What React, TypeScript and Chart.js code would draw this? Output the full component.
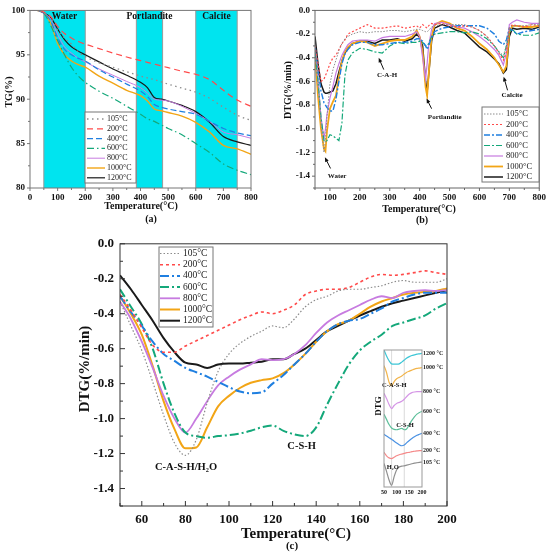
import { useEffect, useRef } from "react";
import { Chart, registerables } from "chart.js";

// Register Chart.js components
Chart.register(...registerables);

const FONT = '"Liberation Serif", "Times New Roman", serif';

// Series shared by the three panels
const SERIES = ["105°C", "200°C", "400°C", "600°C", "800°C", "1000°C", "1200°C"];
const COLORS = ["#8c8c8c", "#ff4a4a", "#1f7fe0", "#14a87a", "#c77be0", "#f2a516", "#1a1a1a"];

// (a) TG curves
const TG_TEMP = [0, 25, 50, 75, 100, 125, 150, 175, 200, 250, 300, 350, 400, 425, 450, 475, 500, 550, 600, 650, 700, 750, 800];
const TG_105 = [100, 100, 99.7, 99.1, 97.8, 96.9, 96.2, 95.3, 94.8, 94.1, 93.6, 93.1, 92.6, 92.4, 92.2, 91.95, 91.7, 91.25, 90.8, 90.1, 89.1, 88.2, 87.6];
const TG_200 = [100, 100, 99.8, 99.3, 98.2, 97.4, 96.9, 96.5, 96.2, 95.7, 95.2, 94.75, 94.35, 94.15, 93.95, 93.75, 93.55, 93.15, 92.8, 92.2, 91.0, 89.9, 89.2];
const TG_400 = [100, 100, 99.7, 98.8, 96.9, 95.6, 95.0, 94.6, 94.3, 93.3, 92.5, 91.7, 90.9, 90.3, 89.4, 89.1, 88.9, 88.6, 88.3, 87.5, 86.7, 86.2, 85.9];
const TG_600 = [100, 100, 99.7, 98.3, 96.6, 95.0, 93.6, 92.6, 91.9, 90.9, 90.1, 89.2, 88.3, 87.8, 87.5, 87.1, 86.7, 86.0, 85.0, 84.0, 82.7, 82.0, 81.5];
const TG_800 = [100, 100, 99.7, 99.0, 97.3, 95.9, 95.2, 94.6, 94.2, 93.4, 92.7, 92.0, 91.3, 90.7, 90.0, 89.9, 89.8, 89.2, 88.4, 87.5, 86.3, 86.0, 85.6];
const TG_1000 = [100, 100, 99.7, 98.5, 96.3, 95.0, 94.3, 93.9, 93.6, 92.6, 91.8, 91.0, 90.4, 89.8, 88.9, 88.7, 88.5, 88.1, 87.4, 86.3, 84.8, 84.4, 83.8];
const TG_1200 = [100, 100, 99.7, 99.2, 97.9, 96.7, 95.9, 95.4, 95.0, 94.2, 93.4, 92.7, 91.9, 91.3, 90.2, 90.0, 89.8, 89.3, 88.6, 87.4, 85.8, 85.2, 84.8];
const TG_X_TICKS = [0, 100, 200, 300, 400, 500, 600, 700, 800];
const TG_X_MINOR = [50, 150, 250, 350, 450, 550, 650, 750];
const TG_Y_TICKS = [80, 85, 90, 95, 100];
const TG_Y_MINOR = [82.5, 87.5, 92.5, 97.5];
const BAND_FROM = [50, 385, 600];
const BAND_TO = [200, 480, 750];
const BAND_LABEL = ["Water", "Portlandite", "Calcite"];

// (b) DTG curves, full range
const DTG_TEMP = [50, 60, 70, 80, 85, 90, 100, 110, 120, 130, 140, 150, 160, 175, 200, 225, 250, 275, 300, 325, 350, 375, 390, 400, 410, 420, 425, 430, 440, 450, 475, 500, 525, 550, 575, 600, 625, 650, 665, 680, 690, 700, 710, 725, 750, 775, 800];
const DTG_105 = [-0.30, -0.55, -0.95, -1.20, -1.10, -0.90, -0.62, -0.50, -0.42, -0.34, -0.28, -0.24, -0.22, -0.20, -0.18, -0.19, -0.18, -0.18, -0.17, -0.17, -0.18, -0.17, -0.16, -0.16, -0.17, -0.18, -0.18, -0.17, -0.14, -0.13, -0.12, -0.12, -0.12, -0.12, -0.14, -0.17, -0.22, -0.30, -0.35, -0.38, -0.30, -0.15, -0.13, -0.13, -0.13, -0.12, -0.12];
const DTG_200 = [-0.30, -0.45, -0.60, -0.58, -0.55, -0.52, -0.45, -0.40, -0.38, -0.33, -0.28, -0.25, -0.20, -0.18, -0.15, -0.12, -0.15, -0.15, -0.14, -0.13, -0.15, -0.14, -0.13, -0.15, -0.12, -0.14, -0.15, -0.13, -0.11, -0.12, -0.11, -0.13, -0.14, -0.13, -0.14, -0.17, -0.22, -0.30, -0.36, -0.42, -0.35, -0.15, -0.12, -0.13, -0.14, -0.12, -0.13];
const DTG_400 = [-0.30, -0.50, -0.68, -0.78, -0.80, -0.82, -0.85, -0.85, -0.75, -0.60, -0.45, -0.37, -0.33, -0.29, -0.27, -0.27, -0.29, -0.29, -0.28, -0.27, -0.27, -0.26, -0.24, -0.24, -0.26, -0.30, -0.33, -0.30, -0.23, -0.18, -0.15, -0.14, -0.13, -0.13, -0.13, -0.13, -0.15, -0.20, -0.26, -0.29, -0.25, -0.15, -0.17, -0.20, -0.18, -0.17, -0.16];
const DTG_600 = [-0.35, -0.60, -0.90, -1.10, -1.11, -1.10, -1.05, -1.06, -1.08, -1.10, -0.95, -0.55, -0.42, -0.36, -0.32, -0.33, -0.35, -0.36, -0.30, -0.27, -0.28, -0.27, -0.27, -0.26, -0.27, -0.30, -0.30, -0.28, -0.22, -0.20, -0.19, -0.18, -0.18, -0.19, -0.18, -0.20, -0.24, -0.30, -0.35, -0.40, -0.30, -0.18, -0.16, -0.20, -0.21, -0.21, -0.19];
const DTG_800 = [-0.30, -0.60, -0.90, -1.08, -1.00, -0.88, -0.74, -0.64, -0.53, -0.45, -0.38, -0.33, -0.29, -0.26, -0.25, -0.25, -0.26, -0.23, -0.22, -0.22, -0.22, -0.20, -0.18, -0.22, -0.40, -0.58, -0.45, -0.30, -0.16, -0.11, -0.10, -0.12, -0.14, -0.15, -0.18, -0.22, -0.27, -0.33, -0.38, -0.46, -0.36, -0.12, -0.10, -0.08, -0.10, -0.11, -0.11];
const DTG_1000 = [-0.35, -0.72, -1.00, -1.17, -1.19, -1.02, -0.83, -0.77, -0.72, -0.56, -0.43, -0.35, -0.31, -0.28, -0.26, -0.27, -0.30, -0.28, -0.26, -0.25, -0.25, -0.22, -0.17, -0.22, -0.35, -0.65, -0.72, -0.55, -0.22, -0.12, -0.09, -0.11, -0.15, -0.17, -0.22, -0.28, -0.33, -0.40, -0.46, -0.52, -0.47, -0.18, -0.13, -0.13, -0.14, -0.14, -0.13];
const DTG_1200 = [-0.22, -0.45, -0.62, -0.69, -0.70, -0.70, -0.69, -0.68, -0.62, -0.52, -0.43, -0.36, -0.32, -0.28, -0.26, -0.26, -0.28, -0.25, -0.25, -0.24, -0.26, -0.24, -0.20, -0.23, -0.30, -0.60, -0.69, -0.55, -0.26, -0.15, -0.12, -0.14, -0.17, -0.19, -0.25, -0.31, -0.35, -0.41, -0.45, -0.53, -0.50, -0.22, -0.15, -0.16, -0.15, -0.16, -0.14];
const DTG_X_TICKS = [100, 200, 300, 400, 500, 600, 700, 800];
const DTG_X_MINOR = [50, 150, 250, 350, 450, 550, 650, 750];
const DTG_Y_TICKS = [-1.4, -1.2, -1.0, -0.8, -0.6, -0.4, -0.2, 0.0];
const DTG_Y_MINOR = [-1.5, -1.3, -1.1, -0.9, -0.7, -0.5, -0.3, -0.1];

// (c) DTG curves, 50-200 °C
const LOW_TEMP = [50, 55, 60, 65, 70, 75, 80, 85, 90, 95, 100, 105, 110, 115, 120, 125, 130, 135, 140, 145, 150, 155, 160, 165, 170, 175, 180, 185, 190, 195, 200];
const LOW_105 = [-0.33, -0.47, -0.61, -0.79, -0.98, -1.14, -1.21, -1.12, -0.91, -0.73, -0.63, -0.57, -0.53, -0.50, -0.47, -0.48, -0.43, -0.36, -0.32, -0.30, -0.27, -0.26, -0.26, -0.25, -0.24, -0.22, -0.21, -0.22, -0.22, -0.22, -0.20];
const LOW_200 = [-0.29, -0.38, -0.48, -0.58, -0.62, -0.62, -0.585, -0.555, -0.525, -0.495, -0.465, -0.435, -0.41, -0.39, -0.40, -0.38, -0.35, -0.29, -0.27, -0.26, -0.26, -0.25, -0.22, -0.19, -0.175, -0.18, -0.175, -0.165, -0.155, -0.165, -0.175];
const LOW_400 = [-0.30, -0.39, -0.47, -0.56, -0.63, -0.67, -0.71, -0.735, -0.76, -0.79, -0.82, -0.845, -0.855, -0.85, -0.80, -0.75, -0.69, -0.63, -0.56, -0.50, -0.46, -0.44, -0.43, -0.40, -0.37, -0.33, -0.31, -0.29, -0.28, -0.28, -0.28];
const LOW_600 = [-0.26, -0.36, -0.46, -0.60, -0.80, -0.97, -1.08, -1.10, -1.11, -1.10, -1.095, -1.085, -1.07, -1.05, -1.04, -1.07, -1.09, -1.10, -1.05, -0.92, -0.80, -0.69, -0.61, -0.56, -0.52, -0.47, -0.45, -0.43, -0.41, -0.37, -0.34];
const LOW_800 = [-0.33, -0.43, -0.56, -0.71, -0.87, -1.00, -1.08, -1.00, -0.90, -0.81, -0.76, -0.72, -0.69, -0.66, -0.665, -0.66, -0.63, -0.58, -0.51, -0.45, -0.41, -0.38, -0.35, -0.32, -0.30, -0.31, -0.28, -0.27, -0.265, -0.27, -0.265];
const LOW_1000 = [-0.30, -0.40, -0.52, -0.70, -0.90, -1.06, -1.17, -1.165, -1.05, -0.93, -0.87, -0.825, -0.795, -0.78, -0.77, -0.74, -0.69, -0.63, -0.56, -0.50, -0.46, -0.44, -0.40, -0.36, -0.33, -0.31, -0.29, -0.28, -0.275, -0.27, -0.255];
const LOW_1200 = [-0.18, -0.26, -0.35, -0.44, -0.54, -0.62, -0.68, -0.69, -0.71, -0.69, -0.685, -0.685, -0.68, -0.675, -0.66, -0.66, -0.63, -0.60, -0.55, -0.50, -0.47, -0.44, -0.41, -0.385, -0.36, -0.34, -0.325, -0.31, -0.295, -0.28, -0.265];
const LOW_X_TICKS = [60, 80, 100, 120, 140, 160, 180, 200];
const LOW_X_MINOR = [50, 70, 90, 110, 130, 150, 170, 190];

// inset: stacked DTG traces (arbitrary units, no y scale)
const INSET_TEMP = [50, 60, 70, 80, 90, 100, 110, 120, 130, 140, 150, 160, 170, 180, 190, 200];
const INSET_NAMES = ["1200 °C", "1000 °C", "800 °C", "600 °C", "400 °C", "200 °C", "105 °C"];
const INSET_COLORS = ["#3cc6d6", "#f2b44a", "#d596e6", "#5cbf9a", "#4b92e3", "#f58a8a", "#8f8f8f"];
const INSET_1200 = [-0.45, -0.62, -0.76, -0.85, -0.86, -0.86, -0.85, -0.80, -0.74, -0.68, -0.64, -0.61, -0.59, -0.57, -0.56, -0.55];
const INSET_1000 = [-0.90, -1.10, -1.38, -1.48, -1.36, -1.28, -1.24, -1.20, -1.14, -1.09, -1.06, -1.03, -1.00, -0.98, -0.97, -0.96];
const INSET_800 = [-1.70, -1.85, -2.02, -2.14, -2.05, -1.99, -1.96, -1.93, -1.87, -1.79, -1.72, -1.68, -1.66, -1.65, -1.65, -1.65];
const INSET_600 = [-2.30, -2.45, -2.60, -2.70, -2.74, -2.75, -2.73, -2.71, -2.75, -2.72, -2.60, -2.48, -2.38, -2.30, -2.25, -2.22];
const INSET_400 = [-2.88, -2.93, -2.98, -3.02, -3.08, -3.13, -3.18, -3.21, -3.19, -3.12, -3.06, -3.00, -2.95, -2.91, -2.88, -2.85];
const INSET_200 = [-3.40, -3.50, -3.56, -3.58, -3.54, -3.50, -3.47, -3.45, -3.43, -3.41, -3.40, -3.38, -3.37, -3.36, -3.35, -3.35];
const INSET_105 = [-3.72, -3.95, -4.20, -4.35, -4.10, -3.90, -3.82, -3.80, -3.79, -3.77, -3.75, -3.73, -3.71, -3.70, -3.69, -3.68];
const INSET_X_TICKS = [50, 100, 150, 200];
const INSET_GUIDES = [80, 130];

type Note = { t: string; x: number; y: number; font: string };
type Arrow = { x0: number; y0: number; x1: number; y1: number };

function lines(temps: number[], series: number[][], widths: number[], dashes: number[][], names = SERIES, colors = COLORS, mode = "monotone") {
  return series.map((vals, i) => ({
    label: names[i],
    data: temps.map((t, k) => ({ x: t, y: vals[k] })),
    borderColor: colors[i],
    borderWidth: widths[i],
    borderDash: dashes[i],
    pointRadius: 0,
    fill: false,
    tension: mode === "linear" ? 0 : 0.4,
    cubicInterpolationMode: mode === "linear" ? "default" : "monotone",
  }));
}

function axes(c: any) {
  const font = { family: FONT, size: c.tickSize, weight: "bold" as const };
  return {
    x: {
      type: "linear",
      min: c.xMin,
      max: c.xMax,
      grid: { display: false, drawTicks: false },
      border: { display: false },
      ticks: { font, color: "#111", padding: c.xPad, maxRotation: 0, autoSkip: false },
      afterBuildTicks: (s: any) => {
        s.ticks = c.xTicks.map((v: number) => ({ value: v }));
      },
      afterFit: (s: any) => {
        s.height = c.xHeight;
      },
    },
    y: {
      type: "linear",
      min: c.yMin,
      max: c.yMax,
      grid: { display: false, drawTicks: false },
      border: { display: false },
      ticks: {
        font,
        color: "#111",
        padding: c.yPad,
        display: c.yTicks.length > 0,
        callback: (v: any) => (c.yDigits ? Number(v).toFixed(c.yDigits) : String(v)),
      },
      afterBuildTicks: (s: any) => {
        s.ticks = c.yTicks.map((v: number) => ({ value: v }));
      },
      afterFit: (s: any) => {
        s.width = c.yWidth;
      },
    },
  };
}

// frame, tick marks and axis titles
function decorPlugin(d: any) {
  return {
    id: "decor",
    afterDraw(chart: any) {
      const { ctx, chartArea: a, scales } = chart;
      const sx = scales.x;
      const sy = scales.y;
      const s = d.tickOut ? 1 : -1;
      ctx.save();
      ctx.setLineDash([]);
      ctx.strokeStyle = d.frame;
      ctx.lineWidth = 1;
      ctx.strokeRect(a.left, a.top, a.right - a.left, a.bottom - a.top);
      ctx.beginPath();
      const xt = (vals: number[], len: number) =>
        vals.forEach((v) => {
          const p = sx.getPixelForValue(v);
          ctx.moveTo(p, a.bottom);
          ctx.lineTo(p, a.bottom + s * len);
        });
      const yt = (vals: number[], len: number) =>
        vals.forEach((v) => {
          const p = sy.getPixelForValue(v);
          ctx.moveTo(a.left, p);
          ctx.lineTo(a.left - s * len, p);
        });
      xt(d.xMajor, d.major);
      xt(d.xMinor, d.minor);
      yt(d.yMajor, d.major);
      yt(d.yMinor, d.minor);
      ctx.stroke();

      ctx.fillStyle = "#111";
      ctx.textAlign = "center";
      ctx.textBaseline = "middle";
      ctx.font = d.titleFont;
      if (d.xTitle) ctx.fillText(d.xTitle, d.xTitleX, d.xTitleY);
      if (d.yTitle) {
        ctx.save();
        ctx.translate(d.yTitleX, d.yTitleY);
        ctx.rotate(-Math.PI / 2);
        ctx.fillText(d.yTitle, 0, 0);
        ctx.restore();
      }
      if (d.caption) {
        ctx.font = d.captionFont;
        ctx.fillText(d.caption, d.captionX, d.captionY);
      }
      ctx.restore();
    },
  };
}

// boxed legend inside the plot
function legendPlugin(b: any) {
  return {
    id: "boxLegend",
    afterDraw(chart: any) {
      const ctx = chart.ctx;
      ctx.save();
      ctx.fillStyle = "#fff";
      ctx.fillRect(b.x, b.y, b.w, b.h);
      ctx.strokeStyle = "#777";
      ctx.lineWidth = 1;
      ctx.setLineDash([]);
      ctx.strokeRect(b.x, b.y, b.w, b.h);
      chart.data.datasets.forEach((ds: any, i: number) => {
        const y = b.row0 + i * b.step;
        ctx.strokeStyle = ds.borderColor;
        ctx.lineWidth = ds.borderWidth;
        ctx.setLineDash(ds.borderDash || []);
        ctx.beginPath();
        ctx.moveTo(b.l0, y);
        ctx.lineTo(b.l1, y);
        ctx.stroke();
        ctx.setLineDash([]);
        ctx.fillStyle = "#222";
        ctx.font = b.font;
        ctx.textAlign = "left";
        ctx.textBaseline = "middle";
        ctx.fillText(ds.label, b.tx, y);
      });
      ctx.restore();
    },
  };
}

// text labels and arrows placed in data coordinates
function notesPlugin(notes: Note[], arrows: Arrow[]) {
  return {
    id: "notes",
    afterDatasetsDraw(chart: any) {
      const { ctx, scales } = chart;
      const px = (v: number) => scales.x.getPixelForValue(v);
      const py = (v: number) => scales.y.getPixelForValue(v);
      ctx.save();
      ctx.fillStyle = "#111";
      ctx.strokeStyle = "#111";
      ctx.textAlign = "center";
      ctx.textBaseline = "middle";
      notes.forEach((n) => {
        ctx.font = n.font;
        ctx.fillText(n.t, px(n.x), py(n.y));
      });
      arrows.forEach((r) => {
        const x0 = px(r.x0), y0 = py(r.y0), x1 = px(r.x1), y1 = py(r.y1);
        const ang = Math.atan2(y1 - y0, x1 - x0);
        ctx.lineWidth = 1;
        ctx.beginPath();
        ctx.moveTo(x0, y0);
        ctx.lineTo(x1 - 3 * Math.cos(ang), y1 - 3 * Math.sin(ang));
        ctx.stroke();
        ctx.beginPath();
        ctx.moveTo(x1, y1);
        ctx.lineTo(x1 - 5 * Math.cos(ang - 0.4), y1 - 5 * Math.sin(ang - 0.4));
        ctx.lineTo(x1 - 5 * Math.cos(ang + 0.4), y1 - 5 * Math.sin(ang + 0.4));
        ctx.closePath();
        ctx.fill();
      });
      ctx.restore();
    },
  };
}

// cyan temperature bands of panel (a)
const bandPlugin = {
  id: "bands",
  beforeDatasetsDraw(chart: any) {
    const { ctx, chartArea: a, scales } = chart;
    ctx.save();
    BAND_FROM.forEach((from, i) => {
      const x0 = scales.x.getPixelForValue(from);
      const x1 = scales.x.getPixelForValue(BAND_TO[i]);
      ctx.fillStyle = "#00e4ef";
      ctx.fillRect(x0, a.top, x1 - x0, a.bottom - a.top);
      ctx.strokeStyle = "#9a9a9a";
      ctx.lineWidth = 1;
      ctx.beginPath();
      ctx.moveTo(x0, a.top);
      ctx.lineTo(x0, a.bottom);
      ctx.moveTo(x1, a.top);
      ctx.lineTo(x1, a.bottom);
      ctx.stroke();
    });
    ctx.restore();
  },
  afterDatasetsDraw(chart: any) {
    const { ctx, chartArea: a, scales } = chart;
    ctx.save();
    ctx.fillStyle = "#111";
    ctx.font = `bold 9.5px ${FONT}`;
    ctx.textAlign = "center";
    ctx.textBaseline = "middle";
    BAND_FROM.forEach((from, i) => {
      const x = scales.x.getPixelForValue((from + BAND_TO[i]) / 2);
      ctx.fillText(BAND_LABEL[i], x, a.top + 6.5);
    });
    ctx.restore();
  },
};

// inset: white box, guide lines and end-of-curve labels
const insetPlugin = {
  id: "insetBits",
  beforeDatasetsDraw(chart: any) {
    const { ctx, chartArea: a, scales } = chart;
    ctx.save();
    ctx.fillStyle = "#fff";
    ctx.fillRect(a.left, a.top, a.right - a.left, a.bottom - a.top);
    ctx.strokeStyle = "#d0d0d0";
    ctx.lineWidth = 0.8;
    ctx.beginPath();
    INSET_GUIDES.forEach((g) => {
      const x = scales.x.getPixelForValue(g);
      ctx.moveTo(x, a.top);
      ctx.lineTo(x, a.bottom);
    });
    ctx.stroke();
    ctx.restore();
  },
  afterDatasetsDraw(chart: any) {
    const { ctx, chartArea: a, scales } = chart;
    ctx.save();
    ctx.fillStyle = "#222";
    ctx.font = `bold 6px ${FONT}`;
    ctx.textAlign = "left";
    ctx.textBaseline = "middle";
    chart.data.datasets.forEach((ds: any) => {
      const last = ds.data[ds.data.length - 1];
      ctx.fillText(ds.label, a.right + 1, scales.y.getPixelForValue(last.y));
    });
    ctx.restore();
  },
};

const App = () => {
  const tgRef = useRef<HTMLCanvasElement>(null);
  const dtgRef = useRef<HTMLCanvasElement>(null);
  const lowRef = useRef<HTMLCanvasElement>(null);
  const insetRef = useRef<HTMLCanvasElement>(null);

  useEffect(() => {
    const charts: Chart[] = [];
    const base = {
      animation: false,
      responsive: false,
      events: [],
      plugins: { legend: { display: false }, tooltip: { enabled: false } },
    };

    // (a) TG
    if (tgRef.current) {
      charts.push(
        new Chart(tgRef.current, {
          type: "line",
          data: {
            datasets: lines(
              TG_TEMP,
              [TG_105, TG_200, TG_400, TG_600, TG_800, TG_1000, TG_1200],
              [1.3, 1.2, 1.2, 1.2, 1, 1.4, 1.2],
              [[1.5, 3.5], [6, 4], [6, 3], [7, 3, 1.5, 3], [], [], []]
            ),
          },
          options: {
            ...base,
            layout: { padding: { left: 0, top: 9, right: 24, bottom: 0 } },
            scales: axes({
              xMin: 0, xMax: 800, yMin: 80, yMax: 100,
              xTicks: TG_X_TICKS, yTicks: TG_Y_TICKS,
              tickSize: 9, xPad: 4, yPad: 5, xHeight: 42, yWidth: 30,
            }),
          } as any,
          plugins: [
            bandPlugin,
            decorPlugin({
              frame: "#777", tickOut: true, major: 3, minor: 2,
              xMajor: TG_X_TICKS, xMinor: TG_X_MINOR, yMajor: TG_Y_TICKS, yMinor: TG_Y_MINOR,
              titleFont: `bold 10px ${FONT}`,
              xTitle: "Temperature(°C)", xTitleX: 141, xTitleY: 206,
              yTitle: "TG(%)", yTitleX: 9, yTitleY: 92,
              caption: "(a)", captionX: 151, captionY: 219, captionFont: `bold 10px ${FONT}`,
            }),
            legendPlugin({ x: 85, y: 112, w: 51, h: 71, row0: 119, step: 9.8, l0: 87, l1: 105, tx: 107, font: `8px ${FONT}` }),
          ] as any,
        } as any)
      );
    }

    // (b) DTG 50-800
    if (dtgRef.current) {
      charts.push(
        new Chart(dtgRef.current, {
          type: "line",
          data: {
            datasets: lines(
              DTG_TEMP,
              [DTG_105, DTG_200, DTG_400, DTG_600, DTG_800, DTG_1000, DTG_1200],
              [1, 1.2, 1.4, 1.2, 1.2, 1.8, 1.5],
              [[1.5, 1.5], [2, 2], [6, 2, 2, 2], [6, 2, 2, 2], [], [], []],
              SERIES,
              COLORS,
              "linear"
            ),
          },
          options: {
            ...base,
            layout: { padding: { left: 0, top: 10, right: 10, bottom: 0 } },
            scales: axes({
              xMin: 50, xMax: 800, yMin: -1.5, yMax: 0,
              xTicks: DTG_X_TICKS, yTicks: DTG_Y_TICKS, yDigits: 1,
              tickSize: 9, xPad: 4, yPad: 5, xHeight: 42, yWidth: 40,
            }),
          } as any,
          plugins: [
            notesPlugin(
              [
                { t: "C-A-H", x: 291, y: -0.55, font: `bold 7px ${FONT}` },
                { t: "Portlandite", x: 484, y: -0.9, font: `bold 7px ${FONT}` },
                { t: "Calcite", x: 709, y: -0.72, font: `bold 7px ${FONT}` },
                { t: "Water", x: 124, y: -1.4, font: `bold 7px ${FONT}` },
              ],
              [
                { x0: 280, y0: -0.5, x1: 263, y1: -0.4 },
                { x0: 440, y0: -0.83, x1: 423, y1: -0.745 },
                { x0: 694, y0: -0.675, x1: 681, y1: -0.56 },
                { x0: 102, y0: -1.335, x1: 83, y1: -1.24 },
              ]
            ),
            decorPlugin({
              frame: "#666", tickOut: true, major: 3, minor: 2,
              xMajor: DTG_X_TICKS, xMinor: DTG_X_MINOR, yMajor: DTG_Y_TICKS, yMinor: DTG_Y_MINOR,
              titleFont: `bold 10px ${FONT}`,
              xTitle: "Temperature(°C)", xTitleX: 144, xTitleY: 209,
              yTitle: "DTG(%/min)", yTitleX: 13, yTitleY: 90,
              caption: "(b)", captionX: 147, captionY: 220, captionFont: `bold 10px ${FONT}`,
            }),
            legendPlugin({ x: 207, y: 107, w: 57, h: 75, row0: 114, step: 10.5, l0: 209, l1: 228, tx: 231, font: `8.5px ${FONT}` }),
          ] as any,
        } as any)
      );
    }

    // (c) DTG 50-200
    if (lowRef.current) {
      charts.push(
        new Chart(lowRef.current, {
          type: "line",
          data: {
            datasets: lines(
              LOW_TEMP,
              [LOW_105, LOW_200, LOW_400, LOW_600, LOW_800, LOW_1000, LOW_1200],
              [1.2, 1.6, 2, 2, 1.8, 2, 2],
              [[1.5, 2], [3, 3], [9, 3, 2, 3], [9, 3, 2, 3], [], [], []]
            ),
          },
          options: {
            ...base,
            layout: { padding: { left: 0, top: 12, right: 103, bottom: 0 } },
            scales: axes({
              xMin: 50, xMax: 200, yMin: -1.5, yMax: 0,
              xTicks: LOW_X_TICKS, yTicks: DTG_Y_TICKS, yDigits: 1,
              tickSize: 13, xPad: 6, yPad: 6, xHeight: 51, yWidth: 120,
            }),
          } as any,
          plugins: [
            notesPlugin(
              [
                { t: "C-A-S-H/H₂O", x: 80.3, y: -1.28, font: `bold 10.5px ${FONT}` },
                { t: "C-S-H", x: 133.3, y: -1.16, font: `bold 10.5px ${FONT}` },
              ],
              []
            ),
            decorPlugin({
              frame: "#333", tickOut: false, major: 5, minor: 3,
              xMajor: LOW_X_TICKS, xMinor: LOW_X_MINOR, yMajor: DTG_Y_TICKS, yMinor: DTG_Y_MINOR,
              titleFont: `bold 15px ${FONT}`,
              xTitle: "Temperature(°C)", xTitleX: 296, xTitleY: 304,
              yTitle: "DTG(%/min)", yTitleX: 85, yTitleY: 139,
              caption: "(c)", captionX: 292, captionY: 316, captionFont: `bold 11px ${FONT}`,
            }),
            legendPlugin({ x: 159, y: 17, w: 54, h: 80, row0: 23.5, step: 11.2, l0: 160, l1: 180, tx: 183, font: `9.5px ${FONT}` }),
          ] as any,
        } as any)
      );
    }

    // inset of (c)
    if (insetRef.current) {
      charts.push(
        new Chart(insetRef.current, {
          type: "line",
          data: {
            datasets: lines(
              INSET_TEMP,
              [INSET_1200, INSET_1000, INSET_800, INSET_600, INSET_400, INSET_200, INSET_105],
              [1.2, 1.2, 1.2, 1.2, 1.2, 1.2, 1.2],
              [[], [], [], [], [], [], []],
              INSET_NAMES,
              INSET_COLORS
            ),
          },
          options: {
            ...base,
            layout: { padding: { left: 0, top: 10, right: 28, bottom: 0 } },
            scales: axes({
              xMin: 50, xMax: 200, yMin: -4.4, yMax: -0.45,
              xTicks: INSET_X_TICKS, yTicks: [],
              tickSize: 6, xPad: 2, yPad: 0, xHeight: 13, yWidth: 34,
            }),
          } as any,
          plugins: [
            insetPlugin,
            notesPlugin(
              [
                { t: "C-A-S-H", x: 91, y: -1.48, font: `bold 6.5px ${FONT}` },
                { t: "C-S-H", x: 133, y: -2.62, font: `bold 6.5px ${FONT}` },
                { t: "H₂O", x: 84.5, y: -3.82, font: `bold 6.5px ${FONT}` },
              ],
              []
            ),
            decorPlugin({
              frame: "#999", tickOut: true, major: 0, minor: 0,
              xMajor: [], xMinor: [], yMajor: [], yMinor: [],
              titleFont: `bold 9px ${FONT}`,
              yTitle: "DTG", yTitleX: 29, yTitleY: 66,
            }),
          ] as any,
        } as any)
      );
    }

    // Cleanup on unmount
    return () => {
      charts.forEach((c) => c.destroy());
    };
  }, []);

  return (
    <div
      style={{ position: "fixed", left: 0, top: 0, width: 550, height: 557, background: "#fff", overflow: "hidden" }}
    >
      <canvas ref={tgRef} width={275} height={230} style={{ position: "absolute", left: 0, top: 0 }} />
      <canvas ref={dtgRef} width={275} height={230} style={{ position: "absolute", left: 275, top: 0 }} />
      <canvas ref={lowRef} width={550} height={327} style={{ position: "absolute", left: 0, top: 230 }} />
      <canvas ref={insetRef} width={100} height={160} style={{ position: "absolute", left: 350, top: 340 }} />
    </div>
  );
};

export default App;
